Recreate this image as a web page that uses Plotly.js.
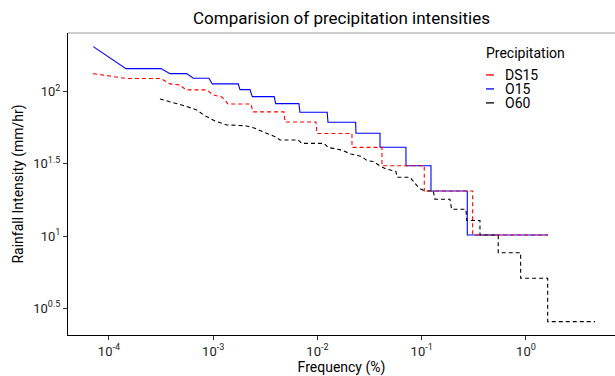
<!DOCTYPE html>
<html>
<head>
<meta charset="utf-8">
<script src="https://cdn.plot.ly/plotly-3.0.1.min.js"></script>
<style>html,body{margin:0;padding:0;background:#fff;}#chart{width:615px;height:376px;}</style>
</head>
<body>
<div id="chart"></div>
<script>
// Frequency (%) and rainfall intensity (mm/hr)
const seriesNames = ["DS15", "O15", "O60"];

const o15Freq = [7.07e-5, 1.456e-4, 3.155e-4, 3.85e-4, 5.56e-4, 6.44e-4, 9.10e-4, 9.79e-4, 1.738e-3, 1.806e-3,
  2.252e-3, 2.37e-3, 3.85e-3, 3.97e-3, 6.64e-3, 6.79e-3, 1.24e-2, 1.261e-2, 2.325e-2, 2.34e-2,
  3.98e-2, 3.98e-2, 7.06e-2, 7.06e-2, 0.1227, 0.1227, 0.2735, 0.2735, 1.626];
const o15Int = [205, 144.3, 144.3, 133.3, 133.3, 123.8, 123.8, 113.1, 113.1, 103.2,
  103.2, 92.3, 92.3, 82.6, 82.6, 72.0, 72.0, 61.4, 61.4, 51.5,
  51.5, 41.2, 41.2, 30.7, 30.7, 20.5, 20.5, 10.18, 10.18];

const ds15Freq = [7.07e-5, 1.456e-4, 3.155e-4, 3.85e-4, 4.80e-4, 5.48e-4, 8.71e-4, 9.95e-4, 1.213e-3, 1.385e-3,
  2.30e-3, 2.406e-3, 4.77e-3, 4.88e-3, 9.67e-3, 9.89e-3, 2.143e-2, 2.143e-2, 4.155e-2, 4.155e-2,
  0.1058, 0.1058, 0.308, 0.308, 1.626];
const ds15Int = [133.3, 123.4, 123.4, 113.1, 111.3, 102.8, 102.8, 94.9, 91.9, 82.2,
  82.2, 72.4, 72.4, 61.7, 61.7, 51.3, 51.3, 41.1, 41.1, 30.7,
  30.7, 20.5, 20.5, 10.18, 10.18];

const o60Freq = [3.08e-4, 3.85e-4, 5.36e-4, 6.94e-4, 8.34e-4, 1.04e-3, 1.346e-3, 2.017e-3, 2.515e-3, 3.135e-3,
  3.91e-3, 4.37e-3, 6.54e-3, 7.05e-3, 1.154e-2, 1.261e-2, 1.68e-2, 2.095e-2, 2.65e-2, 2.985e-2,
  3.43e-2, 3.98e-2, 4.54e-2, 5.66e-2, 5.79e-2, 7.71e-2, 8.30e-2, 9.41e-2, 0.1074, 0.129,
  0.134, 0.1866, 0.1937, 0.2657, 0.270, 0.362, 0.362, 0.542, 0.542, 0.889,
  0.889, 1.615, 1.615, 4.59];
const o60Int = [89.0, 85.2, 79.6, 74.7, 67.9, 62.7, 58.8, 58.1, 55.8, 52.0,
  48.8, 46.3, 46.3, 43.8, 43.8, 41.1, 39.5, 37.0, 35.6, 33.3,
  32.85, 30.6, 29.15, 28.0, 25.55, 25.55, 23.8, 21.5, 20.5, 20.5,
  18.0, 18.0, 15.33, 15.33, 12.82, 12.82, 10.18, 10.18, 7.67, 7.67,
  5.10, 5.10, 2.555, 2.555];

const xTickVals = [1e-4, 1e-3, 1e-2, 1e-1, 1];
const xTickText = ["10<sup>-4</sup>", "10<sup>-3</sup>", "10<sup>-2</sup>", "10<sup>-1</sup>", "10<sup>0</sup>"];
const yTickVals = [Math.pow(10, 0.5), 10, Math.pow(10, 1.5), 100];
const yTickText = ["10<sup>0.5</sup>", "10<sup>1</sup>", "10<sup>1.5</sup>", "10<sup>2</sup>"];

const seriesColors = {DS15: "#ff0000", O15: "#0000ff", O60: "#000000"};
const FONT = "Roboto, 'Liberation Sans', Arial, sans-serif";

const traces = [
  {x: o15Freq, y: o15Int, name: "O15", mode: "lines", line: {color: seriesColors.O15, width: 1.1}},
  {x: ds15Freq, y: ds15Int, name: "DS15", mode: "lines", line: {color: seriesColors.DS15, width: 1.1, dash: "4px,3px"}},
  {x: o60Freq, y: o60Int, name: "O60", mode: "lines", line: {color: seriesColors.O60, width: 1.1, dash: "4px,3px"}}
];

// manual legend (paper coordinates)
const L = 68, R = 615, T = 33, B = 335.5;
const px = v => (v - L) / (R - L);
const py = v => (B - v) / (B - T);
const legendY = [75, 89, 103];
const shapes = [
  {type: "line", xref: "paper", yref: "paper", x0: 0, x1: 1, y0: 1, y1: 1, line: {color: "#9a9a9a", width: 1}}
];
const annotations = [
  {xref: "paper", yref: "paper", x: px(484), y: py(53), xanchor: "left", yanchor: "middle", showarrow: false,
   text: "Precipitation", font: {family: FONT, size: 14, color: "#000"}}
];
seriesNames.forEach((n, i) => {
  shapes.push({type: "line", xref: "paper", yref: "paper", x0: px(486), x1: px(494), y0: py(legendY[i]), y1: py(legendY[i]),
    line: {color: seriesColors[n], width: 1.3}});
  annotations.push({xref: "paper", yref: "paper", x: px(503), y: py(legendY[i]), xanchor: "left", yanchor: "middle",
    showarrow: false, text: n, font: {family: FONT, size: 14, color: "#000"}});
});

const layout = {
  width: 615, height: 376,
  margin: {l: L, r: 0, t: T, b: 376 - B},
  paper_bgcolor: "#fff", plot_bgcolor: "#fff",
  showlegend: false,
  hovermode: false,
  font: {family: FONT, color: "#000"},
  title: {text: "Comparision of precipitation intensities", x: 0.5 * (L + R) / 615, xanchor: "center",
    y: 1 - 18 / 376, yref: "container", yanchor: "middle", font: {family: FONT, size: 17, color: "#000"}},
  xaxis: {
    type: "log", range: [-4.393, 0.854], tickvals: xTickVals, ticktext: xTickText,
    showgrid: false, zeroline: false, showline: true, linecolor: "#000", linewidth: 1,
    ticks: "outside", ticklen: 4, tickcolor: "#333", tickwidth: 1,
    tickfont: {family: FONT, size: 13, color: "#222"},
    title: {text: "Frequency (%)", font: {family: FONT, size: 14, color: "#000"}, standoff: 4}
  },
  yaxis: {
    type: "log", range: [0.315, 2.406], tickvals: yTickVals, ticktext: yTickText,
    showgrid: false, zeroline: false, showline: true, linecolor: "#000", linewidth: 1,
    ticks: "outside", ticklen: 4, tickcolor: "#333", tickwidth: 1,
    tickfont: {family: FONT, size: 13, color: "#222"},
    title: {text: "Rainfall Intensity (mm/hr)", font: {family: FONT, size: 14, color: "#000"}, standoff: 6}
  },
  shapes: shapes,
  annotations: annotations
};

Plotly.newPlot("chart", traces, layout, {staticPlot: true, displayModeBar: false});
</script>
</body>
</html>
